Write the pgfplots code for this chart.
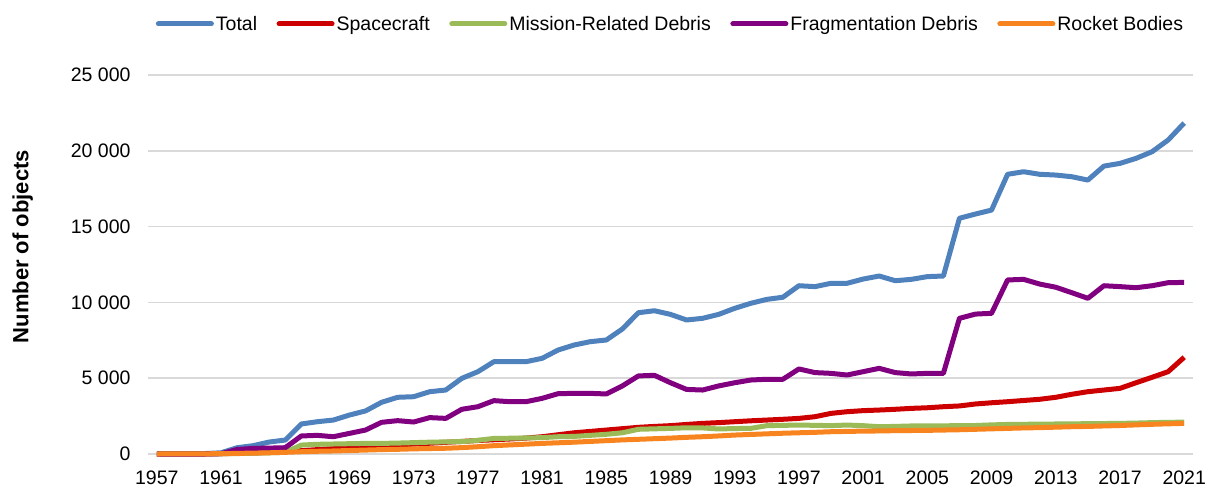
\documentclass[border=0pt]{standalone}
\usepackage{fontspec}
\setmainfont{Liberation Sans}
\usepackage{pgfplots}
\pgfplotsset{compat=1.18}
\usepackage{pgfplotstable}

\definecolor{cTotal}{HTML}{4F81BD}
\definecolor{cSpace}{HTML}{CC0000}
\definecolor{cMission}{HTML}{9BBB59}
\definecolor{cFrag}{HTML}{800080}
\definecolor{cRocket}{HTML}{F7841F}
\definecolor{cGrid}{HTML}{D9D9D9}

\newcommand{\tickfont}{\fontsize{19.5}{23}\selectfont}

% year total spacecraft mission fragmentation rocket
\pgfplotstableread{
year total sc mrd frag rb
1957 0 0 0 0 0
1958 5 2 1 0 2
1959 15 5 3 0 7
1960 30 10 5 0 15
1961 80 25 15 20 20
1962 415 45 30 300 40
1963 550 70 50 370 60
1964 790 110 80 390 80
1965 920 160 110 415 110
1966 1980 220 590 1190 150
1967 2130 290 640 1230 180
1968 2240 360 660 1140 200
1969 2570 420 680 1360 230
1970 2840 480 700 1580 260
1971 3410 540 700 2090 290
1972 3740 600 720 2200 310
1973 3780 650 750 2110 340
1974 4110 710 780 2400 360
1975 4220 770 800 2350 380
1976 4990 830 820 2950 420
1977 5430 890 900 3120 480
1978 6090 940 1030 3520 550
1979 6090 990 1040 3450 600
1980 6090 1050 1060 3450 650
1981 6310 1140 1080 3670 700
1982 6860 1270 1140 3980 740
1983 7190 1400 1160 4000 780
1984 7410 1490 1230 4000 830
1985 7520 1580 1300 3960 880
1986 8245 1670 1400 4490 930
1987 9320 1760 1630 5150 970
1988 9450 1820 1660 5190 1010
1989 9210 1870 1690 4700 1050
1990 8840 1950 1730 4260 1100
1991 8950 2020 1720 4220 1140
1992 9210 2070 1650 4490 1190
1993 9610 2130 1680 4700 1250
1994 9940 2190 1690 4880 1290
1995 10200 2240 1870 4930 1330
1996 10340 2290 1890 4930 1370
1997 11100 2350 1910 5610 1400
1998 11040 2460 1890 5370 1430
1999 11260 2680 1870 5320 1470
2000 11260 2790 1910 5210 1490
2001 11540 2860 1870 5430 1510
2002 11740 2900 1800 5650 1520
2003 11430 2950 1820 5370 1540
2004 11520 3010 1850 5280 1550
2005 11700 3050 1850 5320 1560
2006 11740 3120 1860 5320 1580
2007 15550 3170 1870 8950 1600
2008 15830 3300 1880 9230 1630
2009 16090 3380 1920 9280 1660
2010 18450 3450 1950 11480 1690
2011 18620 3530 1960 11520 1720
2012 18450 3610 1970 11210 1740
2013 18400 3740 1980 11000 1770
2014 18290 3940 1990 10640 1800
2015 18070 4110 2000 10270 1820
2016 18990 4220 2010 11100 1850
2017 19170 4330 2020 11040 1880
2018 19500 4700 2040 10970 1920
2019 19940 5060 2070 11100 1960
2020 20710 5430 2090 11300 1990
2021 21830 6380 2100 11320 2020
}\debris

\begin{document}
\begin{tikzpicture}
\begin{axis}[
    name=ax,
    width=1045pt, height=379pt,
    scale only axis,
    clip=false,
    xmin=1956.45, xmax=2021.55,
    ymin=0, ymax=25000,
    xtick={1957,1961,...,2021},
    xticklabels={1957,1961,1965,1969,1973,1977,1981,1985,1989,1993,1997,2001,2005,2009,2013,2017,2021},
    ytick={0,5000,...,25000},
    yticklabels={0,5 000,10 000,15 000,20 000,25 000},
    scaled y ticks=false,
    axis line style={draw=none},
    tick style={draw=none},
    ymajorgrids,
    major grid style={cGrid, line width=1.6pt},
    xticklabel style={font=\tickfont, yshift=-13pt},
    yticklabel style={font=\tickfont, xshift=-14pt},
    ylabel={\textbf{Number of objects}},
    ylabel style={at={(axis description cs:-0.12,0.547)}, anchor=center, font=\fontsize{22}{26}\selectfont},
    legend columns=5,
    legend style={at={(axis description cs:0.5,1.135)}, anchor=center, draw=none,
        font=\tickfont,
        nodes={inner sep=2pt},
        /tikz/every even column/.append style={column sep=17.5pt}},
    legend image code/.code={\draw[#1, line cap=round] (0pt,0pt) -- (53pt,0pt);},
    every axis plot/.append style={line width=5pt, line join=round},
]
\addplot[cTotal] table[x=year, y=total] {\debris};
\addlegendentry{Total}
\addplot[cSpace] table[x=year, y=sc] {\debris};
\addlegendentry{Spacecraft}
\addplot[cMission] table[x=year, y=mrd] {\debris};
\addlegendentry{Mission-Related Debris}
\addplot[cFrag] table[x=year, y=frag] {\debris};
\addlegendentry{Fragmentation Debris}
\addplot[cRocket] table[x=year, y=rb] {\debris};
\addlegendentry{Rocket Bodies}
\end{axis}
\pgfresetboundingbox
\path ([xshift=-148pt,yshift=-38pt]ax.south west) rectangle ([xshift=15pt,yshift=75pt]ax.north east);
\end{tikzpicture}
\end{document}
